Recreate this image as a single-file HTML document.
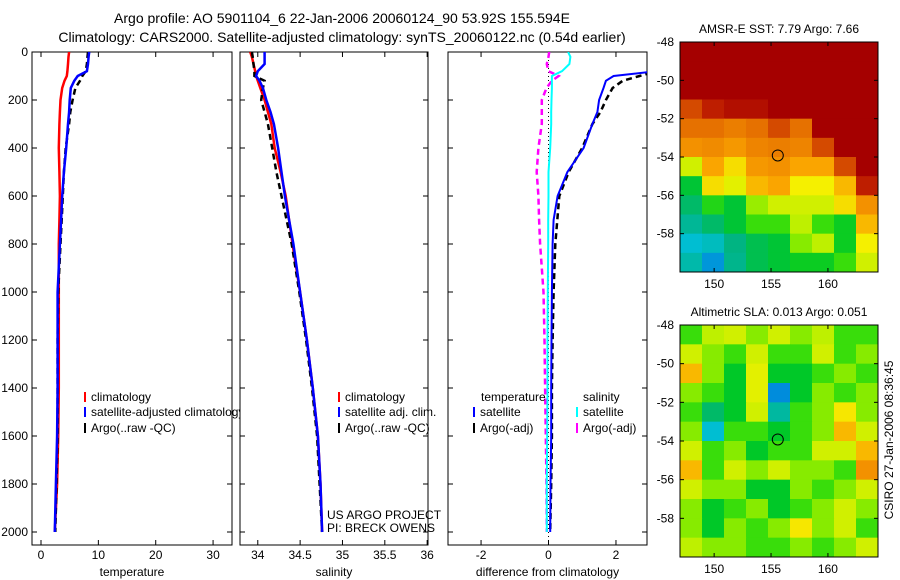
<!DOCTYPE html>
<html><head><meta charset="utf-8">
<style>
body{margin:0;background:#fff;}
svg{display:block;font-family:"Liberation Sans",sans-serif;}
</style></head>
<body>
<svg id="c" width="900" height="580" viewBox="0 0 900 580">
<text x="342" y="23" font-size="14" text-anchor="middle">Argo profile: AO 5901104_6 22-Jan-2006 20060124_90 53.92S 155.594E</text>
<text x="342" y="42" font-size="14" text-anchor="middle">Climatology: CARS2000. Satellite-adjusted climatology: synTS_20060122.nc (0.54d earlier)</text>
<g id="g"></g>
</svg>
<script>
// ---- data ----
const depths = [0,20,50,80,100,120,150,200,250,300,400,500,600,700,800,1000,1200,1400,1600,1800,2000];
const tempClim = [4.9,4.8,4.7,4.6,4.5,4.1,3.7,3.4,3.3,3.2,3.1,3.2,3.3,3.2,3.1,3.1,3.1,3.1,3.0,2.8,2.4];
const tempSat  = [8.4,8.3,8.2,8.0,6.4,5.8,5.2,5.0,4.9,4.7,4.4,4.0,3.7,3.5,3.3,2.9,2.9,2.9,2.8,2.6,2.4];
const tempArgo = [8.2,8.1,8.0,7.8,7.2,6.8,6.0,5.5,5.1,4.9,4.3,4.0,3.8,3.6,3.4,3.0,2.9,2.9,2.9,2.7,2.5];
const salClim = [33.91,33.93,33.95,33.97,33.98,34.0,34.03,34.08,34.12,34.16,34.2,34.27,34.33,34.37,34.41,34.5,34.58,34.65,34.71,34.74,34.76];
const salSat  = [34.08,34.08,34.08,34.0,33.98,34.02,34.06,34.1,34.15,34.19,34.24,34.28,34.32,34.37,34.42,34.5,34.58,34.65,34.71,34.74,34.76];
const salArgo = [33.93,33.94,33.95,33.96,33.96,34.08,34.06,34.04,34.08,34.12,34.17,34.22,34.28,34.34,34.4,34.49,34.57,34.64,34.70,34.73,34.76];
const dTempSat  = [3.5,3.5,3.5,3.2,1.93,1.7,1.63,1.5,1.45,1.3,1.04,0.56,0.27,0.15,0.12,0.1,0.09,0.08,0.08,0.06,0.05];
const dTempArgo = [3.5,3.5,3.5,3.2,2.7,2.2,1.9,1.7,1.54,1.3,1.0,0.6,0.32,0.26,0.2,0.15,0.12,0.1,0.1,0.08,0.05];
const dSalSat   = [0.58,0.65,0.62,0.4,0.1,0.1,0.1,0.09,0.08,0.08,0.05,0.0,0.0,-0.01,-0.01,-0.02,-0.03,-0.03,-0.04,-0.05,-0.05];
const dSalArgo  = [0.02,0.0,-0.05,0.0,0.3,0.1,-0.06,-0.2,-0.2,-0.2,-0.3,-0.35,-0.3,-0.28,-0.25,-0.15,-0.12,-0.1,-0.08,-0.06,-0.05];
const depthTicks = [0,200,400,600,800,1000,1200,1400,1600,1800,2000];
const tempTicks = [0,10,20,30];
const salTicks = [34,34.5,35,35.5,36];
const salTickLabels = ["34","34.5","35","35.5","36"];
const diffTicks = [-2,0,2];
const lonTicks = [150,155,160];
const latTicks = [-48,-50,-52,-54,-56,-58];
// SST field (colormap index 0..1), rows lat -48..-60 by 1deg, cols lon 147..164.4
const sstGrid = [
[1,1,1,1,1,1,1,1,1],
[1,1,1,1,1,1,1,1,1],
[1,1,1,1,1,1,1,1,1],
[0.85,0.9,0.95,0.95,1,1,1,1,1],
[0.8,0.8,0.78,0.8,0.85,0.8,1,1,1],
[0.75,0.76,0.74,0.77,0.78,0.77,0.85,1,1],
[0.6,0.72,0.66,0.74,0.75,0.72,0.72,0.85,1],
[0.44,0.66,0.62,0.7,0.72,0.64,0.64,0.7,0.9],
[0.4,0.48,0.44,0.56,0.6,0.6,0.6,0.66,0.75],
[0.36,0.4,0.44,0.5,0.5,0.58,0.5,0.46,0.7],
[0.3,0.32,0.38,0.42,0.44,0.55,0.58,0.46,0.64],
[0.34,0.26,0.37,0.42,0.44,0.46,0.46,0.5,0.6]];
const slaGrid = [
[0.5,0.58,0.6,0.55,0.6,0.55,0.58,0.5,0.5],
[0.6,0.55,0.5,0.6,0.5,0.5,0.6,0.5,0.55],
[0.7,0.55,0.45,0.62,0.45,0.45,0.5,0.55,0.5],
[0.55,0.5,0.45,0.62,0.25,0.45,0.55,0.5,0.55],
[0.5,0.4,0.45,0.6,0.35,0.5,0.55,0.65,0.55],
[0.55,0.3,0.5,0.5,0.45,0.5,0.55,0.7,0.6],
[0.6,0.5,0.55,0.45,0.5,0.5,0.6,0.6,0.7],
[0.7,0.5,0.6,0.55,0.6,0.55,0.55,0.5,0.75],
[0.6,0.55,0.55,0.45,0.45,0.55,0.5,0.55,0.6],
[0.55,0.45,0.5,0.55,0.45,0.5,0.55,0.6,0.55],
[0.55,0.45,0.55,0.5,0.55,0.65,0.55,0.6,0.5],
[0.58,0.55,0.55,0.5,0.5,0.55,0.5,0.55,0.6]];
const floatLon = 155.594, floatLat = -53.92;

// ---- drawing ----
const NS="http://www.w3.org/2000/svg";
const G=document.getElementById('g');
function el(t,a,p){const e=document.createElementNS(NS,t);for(const k in a)e.setAttribute(k,a[k]);(p||G).appendChild(e);return e;}
function txt(x,y,s,a,p){const e=el('text',Object.assign({x:x,y:y,'font-size':12},a||{}),p);e.textContent=s;return e;}
const PT=52,PB=545;
const yD=d=>52+d*0.24;
function panel(name,x0,x1,xmin,xmax,ticks,labels,xlabel,showY){
  const sx=v=>x0+(v-xmin)/(xmax-xmin)*(x1-x0);
  const g=el('g',{});
  
  
  const r=el('rect',{x:x0,y:PT,width:x1-x0,height:PB-PT,fill:'#fff',stroke:'#000','stroke-width':1},g);
  
  
  ticks.forEach((t,i)=>{const x=sx(t);
    el('line',{x1:x,y1:PB,x2:x,y2:PB-5,stroke:'#000'},g);el('line',{x1:x,y1:PT,x2:x,y2:PT+5,stroke:'#000'},g);
    const l=txt(x,559,labels[i],{'text-anchor':'middle'},g);
    
    });
  depthTicks.forEach(d=>{const y=yD(d);
    el('line',{x1:x0,y1:y,x2:x0+5,y2:y,stroke:'#000'},g);el('line',{x1:x1,y1:y,x2:x1-5,y2:y,stroke:'#000'},g);
    if(showY){const l=txt(x0-4,y+4,String(d),{'text-anchor':'end'},g);
      
      }});
  const xl=txt((x0+x1)/2,576,xlabel,{'text-anchor':'middle'},g);
  
  
  const cp=el('clipPath',{id:'cp'+name},g);el('rect',{x:x0,y:PT,width:x1-x0,height:PB-PT},cp);
  return {sx,g,clip:'url(#cp'+name+')'};
}
function series(P,vals,color,dash,w,name){
  const pts=vals.map((v,i)=>P.sx(v).toFixed(1)+','+yD(depths[i]).toFixed(1)).join(' ');
  const a={points:pts,fill:'none',stroke:color,'stroke-width':w,'clip-path':P.clip};
  if(dash)a['stroke-dasharray']=dash;
  const e=el('polyline',a,P.g);
  
  
}
function legend(P,x,y,color,label,name){
  el('line',{x1:x,y1:y-9,x2:x,y2:y+1,stroke:color,'stroke-width':2},P.g);
  const t=txt(x+6,y,label,{},P.g);
  
  
}
const P1=panel('temperature-panel',32,232,-1.57,33.3,tempTicks,tempTicks.map(String),'temperature',true);
series(P1,tempClim,'#f00',null,2.5,'temp-climatology-line');
series(P1,tempArgo,'#000','6,4',2.5,'temp-argo-line');
series(P1,tempSat,'#00f',null,2.5,'temp-satellite-line');
legend(P1,85,401,'#f00','climatology','legend-climatology');
legend(P1,85,416,'#00f','satellite-adjusted climatology','legend-satellite');
legend(P1,85,432,'#000','Argo(..raw -QC)','legend-argo');

const P2=panel('salinity-panel',240,428,33.79,36.01,salTicks,salTickLabels,'salinity',false);
series(P2,salClim,'#f00',null,2.5,'sal-climatology-line');
series(P2,salArgo,'#000','6,4',2.5,'sal-argo-line');
series(P2,salSat,'#00f',null,2.5,'sal-satellite-line');
legend(P2,339,401,'#f00','climatology','legend-climatology');
legend(P2,339,416,'#00f','satellite adj. clim.','legend-satellite');
legend(P2,339,432,'#000','Argo(..raw -QC)','legend-argo');
let t1=txt(327,519,'US ARGO PROJECT',{},P2.g);
let t2=txt(327,532,'PI: BRECK OWENS',{},P2.g);

const P3=panel('difference-panel',448,647,-2.98,2.92,diffTicks,diffTicks.map(String),'difference from climatology',false);
el('line',{x1:P3.sx(0),y1:PT,x2:P3.sx(0),y2:PB,stroke:'#000','stroke-dasharray':'1,3'},P3.g);
series(P3,dSalArgo,'#f0f','6,4',2.5,'diff-sal-argo-line');
series(P3,dSalSat,'#0ff',null,2,'diff-sal-satellite-line');
series(P3,dTempArgo,'#000','6,4',2.5,'diff-temp-argo-line');
series(P3,dTempSat,'#00f',null,2,'diff-temp-satellite-line');
let t3=txt(481,401,'temperature',{},P3.g);
let t4=txt(583,401,'salinity',{},P3.g);
legend(P3,474,416,'#00f','satellite','legend-temp-satellite');
legend(P3,474,432,'#000','Argo(-adj)','legend-temp-argo');
legend(P3,577,416,'#0ff','satellite','legend-sal-satellite');
legend(P3,577,432,'#f0f','Argo(-adj)','legend-sal-argo');

// colormap matching the reference rendering
const cmStops=[[0,0,0,180],[0.2,0,90,230],[0.3,0,190,210],[0.38,0,180,130],[0.45,0,200,40],[0.52,80,230,0],[0.58,190,240,0],[0.64,245,240,0],[0.72,250,165,0],[0.82,225,100,0],[0.9,190,30,0],[1,165,0,0]];
function cmap(v){v=Math.max(0,Math.min(1,v));
  for(let i=1;i<cmStops.length;i++){const a=cmStops[i-1],b=cmStops[i];
    if(v<=b[0]){const t=(v-a[0])/(b[0]-a[0]);
      return 'rgb('+[1,2,3].map(k=>Math.round(a[k]+(b[k]-a[k])*t)).join(',')+')';}}
  return 'rgb(165,0,0)';}
function map(name,y0,y1,grid,title){
  const x0=680,x1=878,lon0=147,lon1=164.4,lat0=-48,lat1=-60;
  const sx=l=>x0+(l-lon0)/(lon1-lon0)*(x1-x0);
  const sy=l=>y0+(l-lat0)/(lat1-lat0)*(y1-y0);
  const g=el('g',{});
  
  
  const nr=grid.length,nc=grid[0].length;
  grid.forEach((row,i)=>row.forEach((v,j)=>{
    const la=lat0+(lat1-lat0)*i/nr, lb=lat0+(lat1-lat0)*(i+1)/nr;
    const oa=lon0+(lon1-lon0)*j/nc, ob=lon0+(lon1-lon0)*(j+1)/nc;
    const c=el('rect',{x:sx(oa),y:sy(la),width:sx(ob)-sx(oa)+0.5,height:sy(lb)-sy(la)+0.5,fill:cmap(v)},g);
    
    
  }));
  el('rect',{x:x0,y:y0,width:x1-x0,height:y1-y0,fill:'none',stroke:'#000'},g);
  lonTicks.forEach(l=>{const x=sx(l);el('line',{x1:x,y1:y1,x2:x,y2:y1-4,stroke:'#000'},g);el('line',{x1:x,y1:y0,x2:x,y2:y0+4,stroke:'#000'},g);
    const t=txt(x,y1+16,String(l),{'text-anchor':'middle'},g);});
  latTicks.forEach(l=>{const y=sy(l);el('line',{x1:x0,y1:y,x2:x0+4,y2:y,stroke:'#000'},g);el('line',{x1:x1,y1:y,x2:x1-4,y2:y,stroke:'#000'},g);
    const t=txt(x0-6,y+4,String(l),{'text-anchor':'end'},g);});
  const c=el('circle',{cx:sx(floatLon),cy:sy(floatLat),r:5.5,fill:'none',stroke:'#000'},g);
  
  
  const tt=txt(779,y0-9,title,{'text-anchor':'middle'},g);
  
  
}
map('sst-map',42,272,sstGrid,'AMSR-E SST: 7.79 Argo: 7.66');
map('sla-map',325,557,slaGrid,'Altimetric SLA: 0.013 Argo: 0.051');
const st=txt(0,0,'CSIRO 27-Jan-2006 08:36:45',{'text-anchor':'middle',transform:'translate(893,440) rotate(-90)'});


</script>
</body></html>
